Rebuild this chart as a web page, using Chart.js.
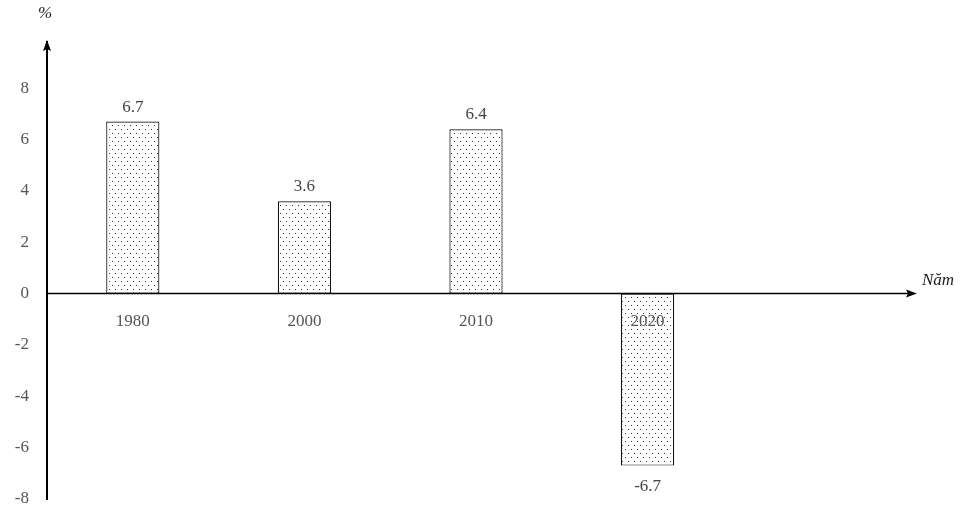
<!DOCTYPE html>
<html>
<head>
<meta charset="utf-8">
<script src="https://cdn.jsdelivr.net/npm/chart.js@4"></script>
<style>
  html, body { margin: 0; padding: 0; background: #fff; }
  #wrap { position: relative; width: 977px; height: 507px; }
</style>
</head>
<body>
<div id="wrap"><canvas id="chart" width="977" height="507"></canvas></div>
<script>
// du lieu doc tu hinh
var years = ["1980", "2000", "2010", "2020", ""];
var growth = [6.7, 3.6, 6.4, -6.7, null];
var yTicks = [-8, -6, -4, -2, 0, 2, 4, 6, 8];
var yUnit = "%";
var xUnit = "Năm";

var SERIF = "'Liberation Serif', 'DejaVu Serif', serif";

// nen cham cho cot
function dotPattern() {
    var c = document.createElement("canvas");
    c.width = 6; c.height = 8;
    var g = c.getContext("2d");
    g.fillStyle = "#fff";
    g.fillRect(0, 0, 6, 8);
    g.fillStyle = "#333";
    g.fillRect(1, 1, 1, 1);
    g.fillRect(4, 5, 1, 1);
    return g.createPattern(c, "repeat");
}

// truc co mui ten + chu thich don vi + nhan gia tri
var decor = {
    id: "decor",
    afterDatasetsDraw: function (chart) {
        var ctx = chart.ctx, a = chart.chartArea;
        var y0 = chart.scales.y.getPixelForValue(0);
        ctx.save();
        ctx.strokeStyle = "#000";
        ctx.fillStyle = "#000";
        // truc hoanh
        ctx.lineWidth = 1.5;
        ctx.beginPath();
        ctx.moveTo(a.left, y0);
        ctx.lineTo(a.right + 4, y0);
        ctx.stroke();
        ctx.beginPath();
        ctx.moveTo(a.right + 12, y0);
        ctx.lineTo(a.right + 1, y0 - 4);
        ctx.lineTo(a.right + 3, y0);
        ctx.lineTo(a.right + 1, y0 + 4);
        ctx.closePath();
        ctx.fill();
        // mui ten truc tung
        ctx.beginPath();
        ctx.moveTo(a.left, a.top - 2);
        ctx.lineTo(a.left - 4, a.top + 9);
        ctx.lineTo(a.left, a.top + 7);
        ctx.lineTo(a.left + 4, a.top + 9);
        ctx.closePath();
        ctx.fill();

        ctx.font = "italic 17px " + SERIF;
        ctx.fillStyle = "#222";
        ctx.textAlign = "left";
        ctx.textBaseline = "middle";
        ctx.fillText(xUnit, a.right + 17, y0 - 13);
        ctx.textAlign = "center";
        ctx.fillText(yUnit, a.left - 2, 14);

        // nhan gia tri
        ctx.font = "17px " + SERIF;
        ctx.fillStyle = "#444";
        chart.getDatasetMeta(0).data.forEach(function (bar, i) {
            var v = growth[i];
            if (v === null) return;
            if (v >= 0) {
                ctx.textBaseline = "bottom";
                ctx.fillText(String(v), bar.x, bar.y - 6);
            } else {
                ctx.textBaseline = "top";
                ctx.fillText(String(v), bar.x, bar.y + 12);
            }
        });
        ctx.restore();
    }
};

new Chart(document.getElementById("chart"), {
    type: "bar",
    data: {
        labels: years,
        datasets: [{
            data: growth,
            backgroundColor: dotPattern(),
            borderColor: "#111",
            borderWidth: 1.2,
            borderSkipped: false,
            barPercentage: 0.31,
            categoryPercentage: 1
        }]
    },
    options: {
        responsive: false,
        animation: false,
        devicePixelRatio: 1,
        layout: { padding: { top: 42, right: 72, bottom: 8, left: 0 } },
        plugins: { legend: { display: false }, tooltip: { enabled: false } },
        scales: {
            x: {
                position: { y: 0 },
                grid: { display: false },
                border: { display: false },
                afterFit: function (s) { s.height = 0; },
                ticks: {
                    z: 1,
                    color: "#555",
                    font: { family: SERIF, size: 17 },
                    padding: 10
                }
            },
            y: {
                min: -8,
                max: 9.8,
                grid: { display: false },
                border: { display: true, color: "#000", width: 2 },
                afterBuildTicks: function (s) {
                    s.ticks = yTicks.map(function (v) { return { value: v }; });
                },
                afterFit: function (s) {
                    s.width = 47;
                    s.paddingBottom = 0;
                    s.paddingTop = 0;
                },
                ticks: {
                    color: "#555",
                    font: { family: SERIF, size: 17 },
                    padding: 10
                }
            }
        }
    },
    plugins: [decor]
});
</script>
</body>
</html>
